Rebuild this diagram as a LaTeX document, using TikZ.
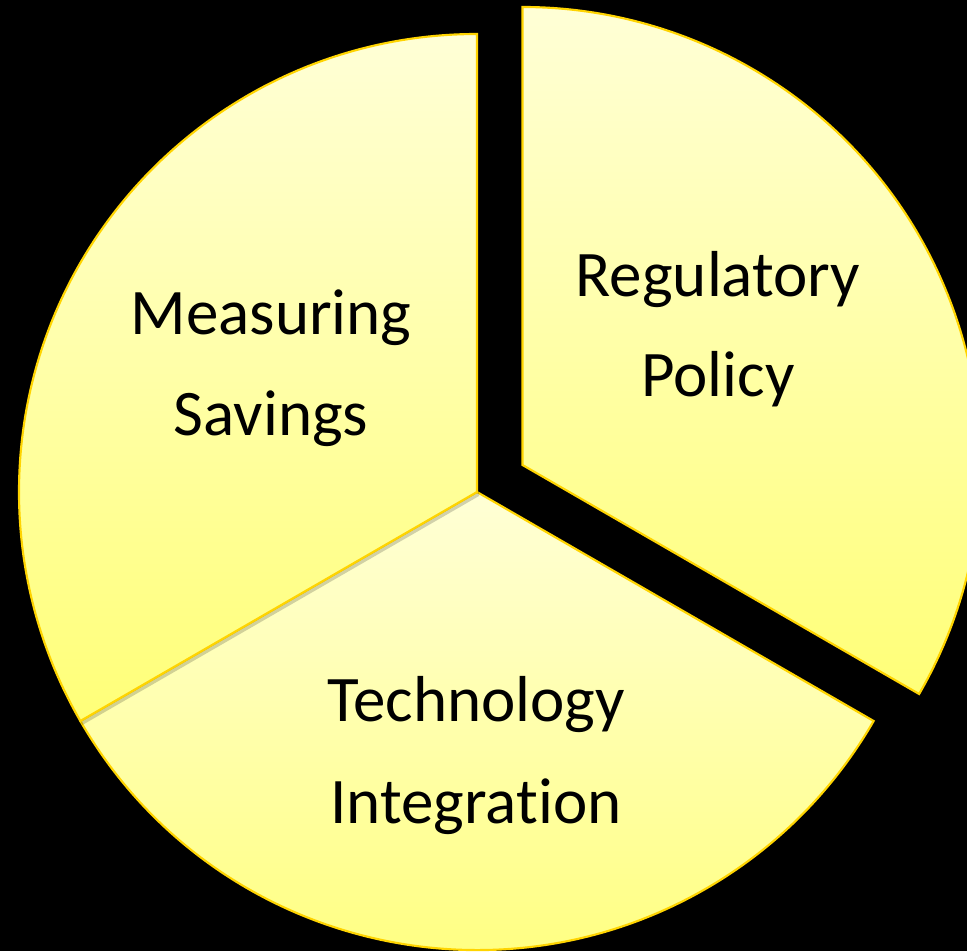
\documentclass[tikz,border=0pt]{standalone}
\usepackage{fontspec}
\setmainfont[Ligatures={NoCommon}]{Carlito}
\begin{document}
\begin{tikzpicture}[x=0.75pt,y=0.75pt,
  slice/.style={draw=sliceedge,line width=1.6pt,line join=miter,top color=slicetop,bottom color=slicebot},
  label/.style={inner sep=0pt,anchor=base,font=\fontsize{48.75}{58}\selectfont,text=black}]
\definecolor{sliceedge}{HTML}{FFD400}
\definecolor{slicetop}{HTML}{FFFFD6}
\definecolor{slicebot}{HTML}{FFFF78}
\fill[black] (0,0) rectangle (967,951);
\useasboundingbox (0,0) rectangle (967,951);
\coordinate (C) at (477,459);
\coordinate (E) at (522.5,486);
\def\R{458}
% Technology Integration
\path[slice] (C) -- ++(210:\R) arc[start angle=210,end angle=330,radius=\R] -- cycle;
% shadow of Measuring slice
\fill[black,opacity=0.18] ([shift={(2,-4)}]C) -- ++(90:\R) arc[start angle=90,end angle=210,radius=\R] -- cycle;
% Measuring Savings
\path[slice] (C) -- ++(90:\R) arc[start angle=90,end angle=210,radius=\R] -- cycle;
% Regulatory Policy (exploded)
\fill[black,opacity=0.18] ([shift={(2,-4)}]E) -- ++(-30:\R) arc[start angle=-30,end angle=90,radius=\R] -- cycle;
\path[slice] (E) -- ++(-30:\R) arc[start angle=-30,end angle=90,radius=\R] -- cycle;
% labels
\node[label] (m1) at (271,616) {Measuring};
\node[label] (m2) at (271,516) {Savings};
\node[label] (r1) at (718,654) {Regulatory};
\node[label] (r2) at (718,554) {Policy};
\node[label] (t1) at (476,230) {Technology};
\node[label] (t2) at (476,128) {Integration};
\end{tikzpicture}
\end{document}
